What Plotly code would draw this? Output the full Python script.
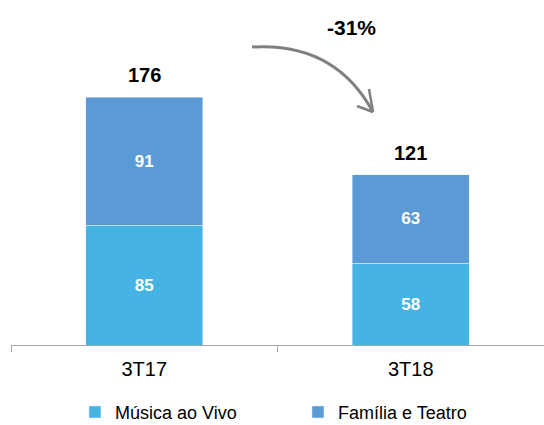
import plotly.graph_objects as go

categories = ["3T17", "3T18"]
musica = [85, 58]
familia = [91, 63]
totals = [176, 121]
change_label = "-31%"

c_musica = "#45B4E4"
c_familia = "#5B9BD5"
FONT = "Liberation Sans, Arial, sans-serif"

fig = go.Figure()
fig.add_trace(go.Bar(
    x=categories, y=musica, name="Música ao Vivo", marker_color=c_musica,
    text=musica, textposition="inside", insidetextanchor="middle",
    textfont=dict(color="white", size=17, family=FONT, weight="bold"),
))
fig.add_trace(go.Bar(
    x=categories, y=familia, name="Família e Teatro", marker_color=c_familia,
    text=familia, textposition="inside", insidetextanchor="middle",
    textfont=dict(color="white", size=17, family=FONT, weight="bold"),
))

for c, t in zip(categories, totals):
    fig.add_annotation(x=c, y=t, text=f"<b>{t}</b>", showarrow=False,
                       yanchor="bottom", yshift=9,
                       font=dict(size=20, color="black", family=FONT))

def px(x, y):
    # pixel position -> paper coords (plot area x 11..544, y 7..345)
    return (x - 11) / 533, (345 - y) / 338

lx, ly = px(352, 28)
fig.add_annotation(x=lx, y=ly, xref="paper", yref="paper",
                   xanchor="center", yanchor="middle",
                   text=f"<b>{change_label}</b>", showarrow=False,
                   font=dict(size=21, color="black", family=FONT))

# curved arrow (decoration)
p0 = px(252, 47)
p1 = px(335, 42)
p2 = px(373, 112)
fig.add_shape(type="path", xref="paper", yref="paper",
              path=f"M {p0[0]},{p0[1]} Q {p1[0]},{p1[1]} {p2[0]},{p2[1]}",
              line=dict(color="#808080", width=3))
a1 = px(357, 106)
a2 = px(369, 89)
for a in (a1, a2):
    fig.add_shape(type="line", xref="paper", yref="paper",
                  x0=a[0], y0=a[1], x1=p2[0], y1=p2[1],
                  line=dict(color="#808080", width=2.5))

fig.update_layout(
    barmode="stack",
    bargap=0.56,
    width=544, height=425,
    margin=dict(l=11, r=0, t=7, b=80, autoexpand=False),
    plot_bgcolor="white", paper_bgcolor="white",
    font=dict(family=FONT),
    showlegend=True,
    legend=dict(orientation="h", x=0.12, xanchor="left", yref="container",
                y=0.03, yanchor="middle",
                font=dict(size=18, color="black", family=FONT),
                traceorder="normal", itemwidth=30, entrywidth=178, entrywidthmode="pixels"),
    xaxis=dict(range=[-0.5, 1.5], showline=True, linecolor="#A6A6A6", linewidth=1,
               ticks="outside", tickson="boundaries", ticklen=6, tickcolor="#A6A6A6",
               ticklabelstandoff=6,
               tickfont=dict(size=20, color="black", family=FONT)),
    yaxis=dict(range=[0, 240], visible=False),
)

fig.write_html("out.html")
